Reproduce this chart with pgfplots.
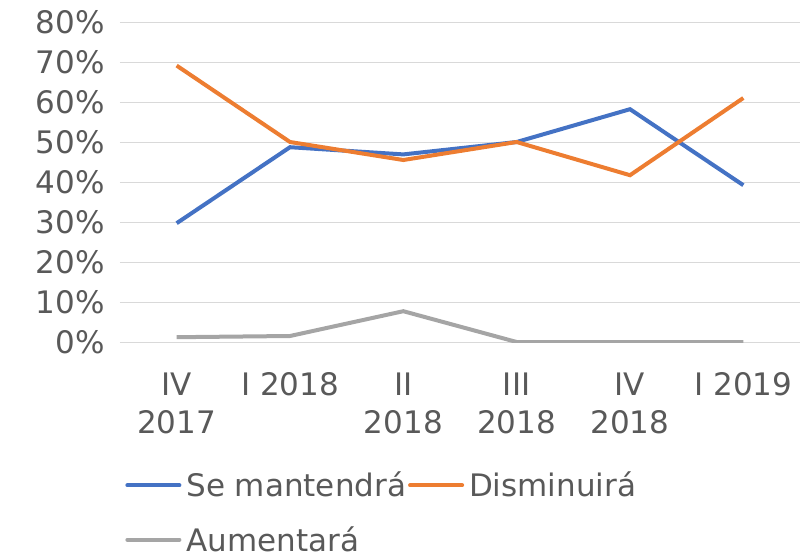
\documentclass[border=0pt]{standalone}
\usepackage{fontspec}
\setmainfont{DejaVu Sans}
\usepackage{pgfplots}
\pgfplotsset{compat=1.18}
\definecolor{cblue}{HTML}{4472C4}
\definecolor{corange}{HTML}{ED7D31}
\definecolor{cgray}{HTML}{A5A5A5}
\definecolor{ctext}{HTML}{595959}
\definecolor{cgrid}{HTML}{D9D9D9}
\begin{document}
\begin{tikzpicture}
\begin{axis}[
  scale only axis,
  width=680bp, height=320bp,
  xmin=-0.5, xmax=5.5, ymin=0, ymax=80,
  axis line style={draw=none},
  major tick length=0,
  ymajorgrids, grid style={cgrid, line width=1bp},
  ytick={0,10,20,30,40,50,60,70,80},
  yticklabels={0\%,10\%,20\%,30\%,40\%,50\%,60\%,70\%,80\%},
  xtick={0,1,2,3,4,5},
  xticklabels={IV\\2017, I 2018, II\\2018, III\\2018, IV\\2018, I 2019},
  ticklabel style={font=\fontsize{31bp}{38bp}\selectfont, text=ctext},
  xticklabel style={align=center, yshift=-27bp},
  yticklabel style={xshift=-12bp},
  legend columns=2,
  legend style={at={(0.385,-0.40)}, anchor=north, draw=none, fill=none,
    font=\fontsize{31bp}{38bp}\selectfont, text=ctext,
    /tikz/every even column/.append style={column sep=0bp},
    row sep=24bp, inner sep=0pt,
    /tikz/every odd column/.append style={column sep=3bp}},
  legend cell align=left,
  legend image code/.code={\draw[line width=4bp, line cap=round, #1] (0bp,0bp) -- (52bp,0bp);},
]
\addplot[cblue, line width=4bp] coordinates {(0,29.7) (1,48.7) (2,46.9) (3,50.0) (4,58.2) (5,39.2)};
\addlegendentry{Se mantendrá}
\addplot[corange, line width=4bp] coordinates {(0,69.1) (1,50.0) (2,45.5) (3,50.0) (4,41.7) (5,61.0)};
\addlegendentry{Disminuirá}
\addplot[cgray, line width=4bp] coordinates {(0,1.2) (1,1.5) (2,7.7) (3,0) (4,0) (5,0)};
\addlegendentry{Aumentará}
\end{axis}
\useasboundingbox (-120bp,-213bp) rectangle (683bp,342bp);
\end{tikzpicture}
\end{document}
